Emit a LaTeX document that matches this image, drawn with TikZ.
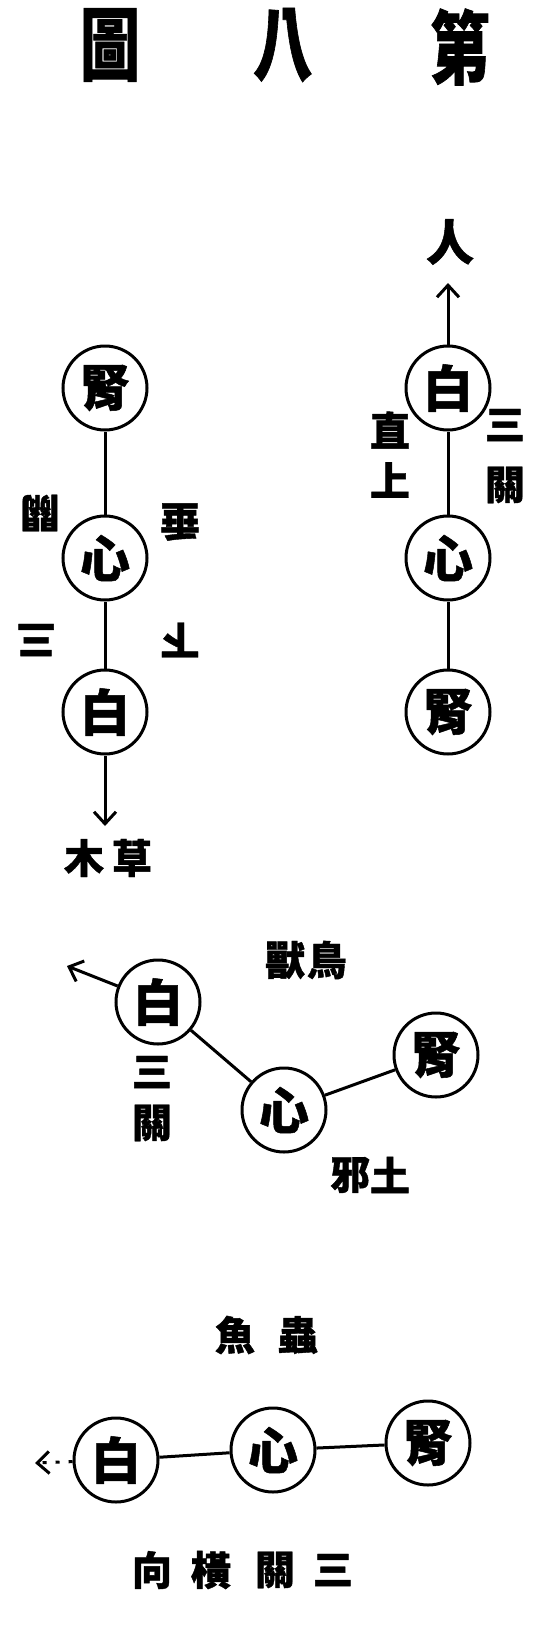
\documentclass[tikz,border=0pt]{standalone}
\usepackage{fontspec}
\newfontfamily\cjk{Noto Sans CJK TC}[BoldFeatures={FakeBold=1}]
\usetikzlibrary{arrows.meta}

\tikzset{
  organ/.style={circle, draw, line width=3pt, minimum size=84pt, inner sep=0pt,
    font=\cjk\bfseries\fontsize{50}{50}\selectfont},
  lbl/.style={inner sep=0pt, font=\cjk\bfseries\fontsize{40}{40}\selectfont},
  head/.style={inner sep=0pt, xscale=0.75, font=\cjk\bfseries\fontsize{80}{80}\selectfont},
  link/.style={line width=3pt},
  tip/.style={line width=3pt, -{Straight Barb[length=12pt,width=22pt]}},
}

\begin{document}
\begin{tikzpicture}[x=1pt,y=-1pt]
    \useasboundingbox (0,0) rectangle (549,1648);
    % title
    \node[head] (tu) at (110,45) {圖};
    \node[head] (ba) at (283,45) {八};
    \node[head] (di) at (460,47) {第};

    % man: upright
    \node[organ] (renBai) at (448,388) {白};
    \node[organ] (renXin) at (448,558) {心};
    \node[organ] (renShen) at (448,712) {腎};
    \node[lbl, font=\cjk\bfseries\fontsize{48}{48}\selectfont] (ren) at (450,242) {人};
    \coordinate (renTip) at (448,283);
    \draw[link] (renShen) -- (renXin);
    \draw[link] (renXin) -- (renBai);
    \draw[tip] (renBai) -- (renTip);
    \node[lbl] (renA) at (390,430) {直};
    \node[lbl] (renB) at (390,480) {上};
    \node[lbl] (renC) at (505,425) {三};
    \node[lbl] (renD) at (505,485) {關};

    % plants: upside down
    \node[organ] (caoShen) at (105,388) {腎};
    \node[organ] (caoXin) at (105,558) {心};
    \node[organ] (caoBai) at (105,712) {白};
    \coordinate (caoTip) at (105,826);
    \draw[link] (caoShen) -- (caoXin);
    \draw[link] (caoXin) -- (caoBai);
    \draw[tip] (caoBai) -- (caoTip);
    \node[lbl, rotate=180] (caoA) at (40,513) {關};
    \node[lbl, rotate=180] (caoB) at (36,640) {三};
    \node[lbl, rotate=180] (caoC) at (180,522) {垂};
    \node[lbl, rotate=180] (caoD) at (180,640) {下};
    \node[lbl] (mu) at (84,858) {木};
    \node[lbl] (cao) at (132,858) {草};

    % birds and beasts: slanted
    \node[organ] (niaoBai) at (158,1002) {白};
    \node[organ] (niaoXin) at (284,1110) {心};
    \node[organ] (niaoShen) at (436,1055) {腎};
    \coordinate (niaoTip) at (67,966);
    \draw[link] (niaoShen) -- (niaoXin);
    \draw[link] (niaoXin) -- (niaoBai);
    \draw[tip] (niaoBai) -- (niaoTip);
    \node[lbl] (shou) at (285,960) {獸};
    \node[lbl] (niao) at (327,960) {鳥};
    \node[lbl] (niaoA) at (152,1072) {三};
    \node[lbl] (niaoB) at (152,1123) {關};
    \node[lbl] (xie) at (350,1175) {邪};
    \node[lbl] (tu2) at (390,1175) {土};

    % fish and insects: level
    \node[organ] (yuBai) at (116,1460) {白};
    \node[organ] (yuXin) at (273,1450) {心};
    \node[organ] (yuShen) at (428,1443) {腎};
    \coordinate (yuTip) at (35,1463);
    \draw[link] (yuShen) -- (yuXin);
    \draw[link] (yuXin) -- (yuBai);
    \draw[tip, dash pattern=on 4pt off 9pt] (yuBai) -- (yuTip);
    \node[lbl] (yu) at (235,1335) {魚};
    \node[lbl] (chong) at (298,1335) {蟲};
    \node[lbl] (xiang) at (152,1570) {向};
    \node[lbl] (heng) at (211,1570) {橫};
    \node[lbl] (guan) at (275,1570) {關};
    \node[lbl] (san) at (333,1570) {三};
\end{tikzpicture}
\end{document}
